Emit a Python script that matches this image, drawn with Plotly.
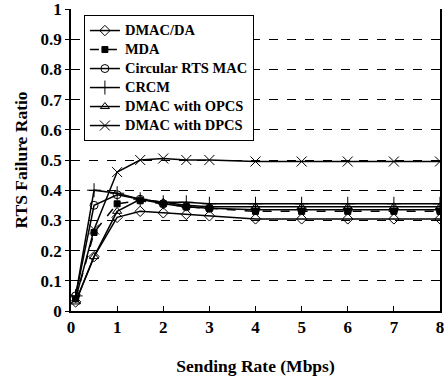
import plotly.graph_objects as go

rates = [0.1, 0.5, 1, 1.5, 2, 2.5, 3, 4, 5, 6, 7, 8]
dmac_da = [0.03, 0.18, 0.31, 0.33, 0.325, 0.32, 0.315, 0.305, 0.305, 0.305, 0.305, 0.305]
mda = [0.04, 0.26, 0.355, 0.365, 0.355, 0.345, 0.34, 0.33, 0.33, 0.33, 0.33, 0.33]
circular = [0.05, 0.35, 0.385, 0.37, 0.355, 0.345, 0.34, 0.335, 0.335, 0.335, 0.335, 0.335]
crcm = [0.05, 0.40, 0.39, 0.37, 0.36, 0.36, 0.355, 0.355, 0.355, 0.355, 0.355, 0.355]
opcs = [0.03, 0.18, 0.33, 0.37, 0.36, 0.35, 0.345, 0.345, 0.345, 0.345, 0.345, 0.345]
dpcs = [0.04, 0.27, 0.46, 0.50, 0.505, 0.50, 0.50, 0.495, 0.495, 0.495, 0.495, 0.495]
x_ticks = [0, 1, 2, 3, 4, 5, 6, 7, 8]
y_ticks = [0, 0.1, 0.2, 0.3, 0.4, 0.5, 0.6, 0.7, 0.8, 0.9, 1]
y_labels = ["0", "0.1", "0.2", "0.3", "0.4", "0.5", "0.6", "0.7", "0.8", "0.9", "1"]

series = [
    ("DMAC/DA", dmac_da, "diamond-open", "solid", 8),
    ("MDA", mda, "square", "dash", 6),
    ("Circular RTS MAC", circular, "circle-open", "solid", 8),
    ("CRCM", crcm, "cross-thin-open", "solid", 10),
    ("DMAC with OPCS", opcs, "triangle-up-open", "solid", 8),
    ("DMAC with DPCS", dpcs, "x-thin-open", "solid", 10),
]

fig = go.Figure()
for name, ys, sym, dash, size in series:
    fig.add_trace(go.Scatter(
        x=rates, y=ys,
        name='<span style="font-size:14.5px"><b>' + name + '</b></span>',
        mode="lines+markers",
        line=dict(color="black", width=1.5, dash=dash),
        marker=dict(symbol=sym, size=size, color="black",
                    line=dict(color="black", width=1)),
    ))

fam = "Liberation Serif"
fig.update_layout(
    width=444, height=386,
    margin=dict(l=71, r=0, t=7, b=75),
    paper_bgcolor="white", plot_bgcolor="white",
    font=dict(family=fam, color="black", size=14),
    showlegend=True,
    legend=dict(x=0.035, y=0.98, xanchor="left", yanchor="top",
                bgcolor="white", bordercolor="black", borderwidth=1,
                font=dict(family=fam, size=12, color="black"),
                tracegroupgap=0, itemwidth=30),
    xaxis=dict(range=[0, 8], tickvals=x_ticks,
               ticktext=["<b>%d</b>" % v for v in x_ticks],
               showgrid=False, zeroline=False, showline=True, linecolor="black", linewidth=1.5,
               ticks="inside", ticklen=5, tickcolor="black",
               ticklabeloverflow="allow",
               tickfont=dict(family=fam, size=17),
               title=dict(text="<b>Sending Rate (Mbps)</b>", standoff=24,
                          font=dict(family=fam, size=17.5))),
    yaxis=dict(range=[0, 1], tickvals=y_ticks,
               ticktext=["<b>%s</b>" % s for s in y_labels],
               showgrid=True, gridcolor="black", griddash="dash", gridwidth=1,
               zeroline=False, showline=True, linecolor="black", linewidth=1.5,
               mirror=True,
               ticks="outside", ticklen=4, tickcolor="black",
               ticklabeloverflow="allow",
               tickfont=dict(family=fam, size=17),
               title=dict(text="<b>RTS Failure Ratio</b>", standoff=8,
                          font=dict(family=fam, size=17.5))),
)
fig.write_html("out.html")
